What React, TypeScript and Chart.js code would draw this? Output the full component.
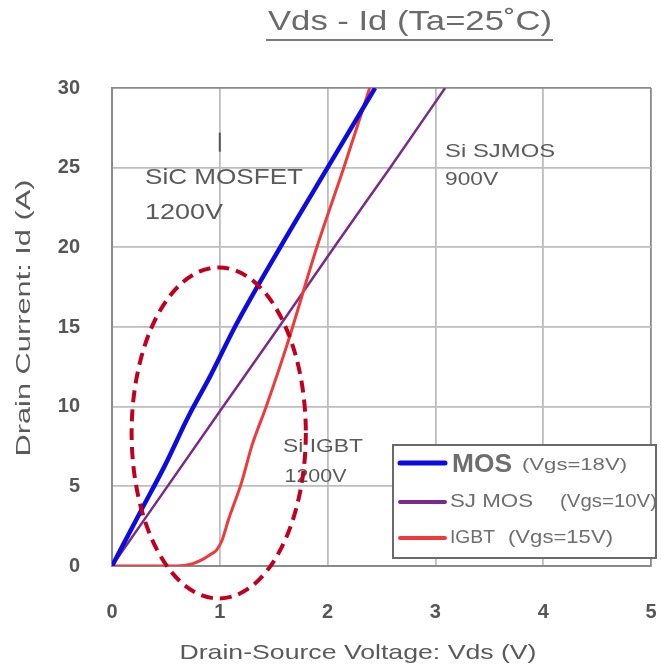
import React, { useEffect, useRef } from "react";
import { Chart, registerables } from "chart.js";

Chart.register(...registerables);

// ---- Data ----
const mosVds = [0, 0.275, 0.49, 0.71, 0.91, 1.14, 1.56, 2.0, 2.44];
const mosId = [0, 3.55, 6.3, 9.4, 11.9, 15.0, 20.0, 25.0, 30.0];

const sjVds = [0, 1.02, 1.57, 2.07, 2.58, 3.09];
const sjId = [0, 9.9, 15.2, 20.1, 25.0, 30.0];

const igbtVds = [0, 0.6, 0.75, 0.85, 0.92, 0.97, 1.02, 1.08, 1.2, 1.3, 1.43, 1.62, 1.9, 2.15, 2.39];
const igbtId = [0, 0, 0.15, 0.45, 0.75, 1.0, 1.6, 2.9, 5.2, 7.6, 10.0, 13.8, 20.0, 25.0, 30.0];

const xTicks = [0, 1, 2, 3, 4, 5];
const yTicks = [0, 5, 10, 15, 20, 25, 30];

const titleText = "Vds - Id (Ta=25˚C)";
const xTitle = "Drain-Source Voltage: Vds (V)";
const yTitle = "Drain Current: Id (A)";

const legendNames = ["MOS", "SJ MOS", "IGBT"];
const legendConds = ["(Vgs=18V)", "(Vgs=10V)", "(Vgs=15V)"];

const COLORS = { mos: "#0c0ce0", sj: "#7a2a8c", igbt: "#f03a3a" };

function pts(xs: number[], ys: number[]) {
  return xs.map((x, i) => ({ x, y: ys[i] }));
}

function fitText(
  ctx: CanvasRenderingContext2D,
  text: string,
  x: number,
  y: number,
  width: number,
  font: string,
  color: string,
  align: "left" | "center" = "left"
) {
  ctx.save();
  ctx.font = font;
  ctx.fillStyle = color;
  ctx.textBaseline = "middle";
  ctx.textAlign = "left";
  const w = ctx.measureText(text).width;
  const s = width / w;
  const left = align === "center" ? x - width / 2 : x;
  ctx.translate(left, y);
  ctx.scale(s, 1);
  ctx.fillText(text, 0, 0);
  ctx.restore();
}

const decorPlugin = {
  id: "decor",
  afterDatasetsDraw(chart: any) {
    const ctx: CanvasRenderingContext2D = chart.ctx;
    const xs = chart.scales.x;
    const ys = chart.scales.y;
    const px = (v: number) => xs.getPixelForValue(v);
    const py = (v: number) => ys.getPixelForValue(v);
    const txt = "#5a5a5a";

    // small vertical mark
    ctx.save();
    ctx.strokeStyle = "#555";
    ctx.lineWidth = 2;
    ctx.beginPath();
    ctx.moveTo(px(1.0), py(27.2));
    ctx.lineTo(px(1.0), py(26.0));
    ctx.stroke();
    ctx.restore();

    // annotations
    fitText(ctx, "SiC MOSFET", px(0.306), py(24.36), 158, "22px 'Liberation Sans'", txt);
    fitText(ctx, "1200V", px(0.306), py(22.16), 78, "22px 'Liberation Sans'", txt);
    fitText(ctx, "Si SJMOS", px(3.09), py(25.99), 110, "19px 'Liberation Sans'", txt);
    fitText(ctx, "900V", px(3.09), py(24.23), 53, "19px 'Liberation Sans'", txt);
    fitText(ctx, "Si IGBT", px(1.586), py(7.47), 80, "19px 'Liberation Sans'", txt);
    fitText(ctx, "1200V", px(1.6), py(5.59), 62, "19px 'Liberation Sans'", txt);

    // legend box
    const lx0 = 393, ly0 = 445, lx1 = 656, ly1 = 558;
    ctx.save();
    ctx.fillStyle = "#ffffff";
    ctx.fillRect(lx0, ly0, lx1 - lx0, ly1 - ly0);
    ctx.strokeStyle = "#6a6a6a";
    ctx.lineWidth = 2;
    ctx.strokeRect(lx0, ly0, lx1 - lx0, ly1 - ly0);
    const rows = [463, 502, 538];
    const cols = [COLORS.mos, COLORS.sj, COLORS.igbt];
    const widths = [5, 4, 4];
    rows.forEach((ry, i) => {
      ctx.strokeStyle = cols[i];
      ctx.lineWidth = widths[i];
      ctx.lineCap = "round";
      ctx.beginPath();
      ctx.moveTo(400, ry);
      ctx.lineTo(445, ry);
      ctx.stroke();
    });
    ctx.restore();
    fitText(ctx, legendNames[0], 452, 465, 60, "bold 26px 'Liberation Sans'", "#6e6e6e");
    fitText(ctx, legendConds[0], 522, 465, 105, "17px 'Liberation Sans'", "#6e6e6e");
    fitText(ctx, legendNames[1], 450, 502, 83, "19px 'Liberation Sans'", "#6e6e6e");
    fitText(ctx, legendConds[1], 560, 502, 97, "18px 'Liberation Sans'", "#6e6e6e");
    fitText(ctx, legendNames[2], 450, 538, 45, "18px 'Liberation Sans'", "#6e6e6e");
    fitText(ctx, legendConds[2], 508, 538, 105, "18px 'Liberation Sans'", "#6e6e6e");

    // dashed ellipse
    const cx = px(0.99), cy = py(8.35);
    const rx = px(0.99 + 0.808) - cx;
    const ry = cy - py(8.35 + 10.39);
    ctx.save();
    ctx.strokeStyle = "#c0001c";
    ctx.lineWidth = 4;
    ctx.setLineDash([12, 7]);
    ctx.beginPath();
    ctx.ellipse(cx, cy, rx, ry, 0, 0, Math.PI * 2);
    ctx.stroke();
    ctx.restore();
  },
  afterDraw(chart: any) {
    const ctx: CanvasRenderingContext2D = chart.ctx;
    // title with underline
    fitText(ctx, titleText, 268, 22, 284, "28px 'Liberation Sans'", "#6a6a6a");
    ctx.save();
    ctx.strokeStyle = "#7a7a7a";
    ctx.lineWidth = 2;
    ctx.beginPath();
    ctx.moveTo(266, 40);
    ctx.lineTo(553, 40);
    ctx.stroke();
    ctx.restore();
    // axis titles
    fitText(ctx, xTitle, 358, 653, 357, "21px 'Liberation Sans'", "#5a5a5a", "center");
    ctx.save();
    ctx.translate(24, 318);
    ctx.rotate(-Math.PI / 2);
    fitText(ctx, yTitle, 0, 0, 277, "21px 'Liberation Sans'", "#5a5a5a", "center");
    ctx.restore();
  },
};

export default function App() {
  const ref = useRef<HTMLCanvasElement | null>(null);
  useEffect(() => {
    if (!ref.current) return;
    const gridColor = (c: any, max: number) =>
      c.tick && (c.tick.value === max || c.tick.value === 0) ? "#8a8a8a" : "#bdbdbd";
    const chart = new Chart(ref.current, {
      type: "line",
      data: {
        datasets: [
          {
            label: "MOS",
            data: pts(mosVds, mosId),
            borderColor: COLORS.mos,
            borderWidth: 4.5,
            pointRadius: 0,
            cubicInterpolationMode: "monotone",
            order: 0,
          },
          {
            label: "SJ MOS",
            data: pts(sjVds, sjId),
            borderColor: COLORS.sj,
            borderWidth: 2.5,
            pointRadius: 0,
            cubicInterpolationMode: "monotone",
            order: 2,
          },
          {
            label: "IGBT",
            data: pts(igbtVds, igbtId),
            borderColor: COLORS.igbt,
            borderWidth: 3,
            pointRadius: 0,
            cubicInterpolationMode: "monotone",
            order: 1,
          },
        ],
      },
      options: {
        responsive: false,
        animation: false,
        devicePixelRatio: 1,
        layout: { padding: { top: 88, right: 10, left: 0, bottom: 0 } },
        plugins: { legend: { display: false }, tooltip: { enabled: false }, title: { display: false } },
        scales: {
          x: {
            type: "linear",
            min: 0,
            max: 5,
            afterBuildTicks: (s: any) => {
              s.ticks = xTicks.map((v) => ({ value: v }));
            },
            afterFit: (s: any) => {
              s.height = 102;
              s.paddingLeft = 0;
              s.paddingRight = 0;
            },
            ticks: {
              padding: 34,
              color: "#555",
              font: { family: "'Liberation Sans'", size: 20, weight: "bold" },
            },
            grid: {
              drawTicks: false,
              color: (c: any) => gridColor(c, 5),
              lineWidth: 1.8,
            },
            border: { color: "#8a8a8a", width: 2 },
          },
          y: {
            type: "linear",
            min: 0,
            max: 30,
            afterBuildTicks: (s: any) => {
              s.ticks = yTicks.map((v) => ({ value: v }));
            },
            afterFit: (s: any) => {
              s.width = 112;
              s.paddingTop = 0;
              s.paddingBottom = 0;
            },
            ticks: {
              padding: 32,
              color: "#555",
              font: { family: "'Liberation Sans'", size: 20, weight: "bold" },
            },
            grid: {
              drawTicks: false,
              color: (c: any) => gridColor(c, 30),
              lineWidth: 1.8,
            },
            border: { color: "#8a8a8a", width: 2 },
          },
        },
      },
      plugins: [decorPlugin],
    } as any);
    return () => chart.destroy();
  }, []);
  return (
    <div style={{ position: "fixed", left: 0, top: 0, width: 661, height: 668, background: "#fff" }}>
      <canvas ref={ref} width={661} height={668} style={{ display: "block" }} />
    </div>
  );
}
